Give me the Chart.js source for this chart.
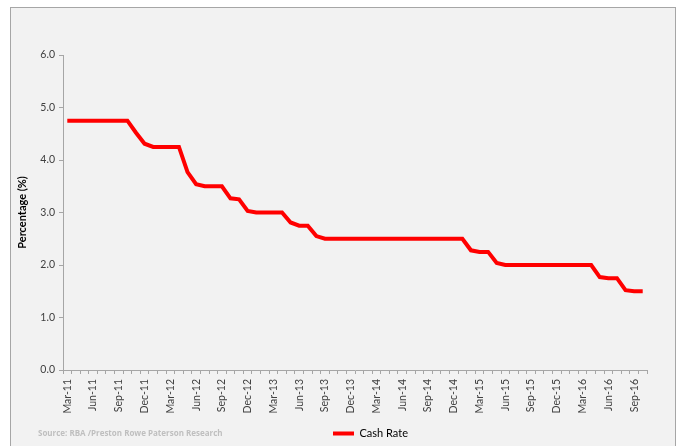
<!DOCTYPE html>
<html>
<head>
<meta charset="utf-8">
<script src="https://cdn.jsdelivr.net/npm/chart.js@4/dist/chart.umd.min.js"></script>
<style>
  html, body { margin: 0; padding: 0; background: #ffffff; width: 680px; height: 446px; overflow: hidden; }
  #frame { position: absolute; left: 10px; top: 7px; width: 664px; height: 460px; border: 1px solid #a6a6a6; background: #f2f2f2; }
  #wrap { position: absolute; left: 0; top: 0; width: 680px; height: 446px; }
  #source { position: absolute; left: 38px; top: 427px; font-family: "Open Sans", sans-serif; font-weight: bold; font-size: 8px; color: #bfbfbf; white-space: nowrap; }
</style>
</head>
<body>
<div id="frame"></div>
<div id="wrap"><canvas id="c" width="680" height="446"></canvas></div>
<div id="source">Source: RBA /Preston Rowe Paterson Research</div>
<script>
const months = [
  'Mar-11','Apr-11','May-11','Jun-11','Jul-11','Aug-11','Sep-11','Oct-11','Nov-11','Dec-11',
  'Jan-12','Feb-12','Mar-12','Apr-12','May-12','Jun-12','Jul-12','Aug-12','Sep-12','Oct-12','Nov-12','Dec-12',
  'Jan-13','Feb-13','Mar-13','Apr-13','May-13','Jun-13','Jul-13','Aug-13','Sep-13','Oct-13','Nov-13','Dec-13',
  'Jan-14','Feb-14','Mar-14','Apr-14','May-14','Jun-14','Jul-14','Aug-14','Sep-14','Oct-14','Nov-14','Dec-14',
  'Jan-15','Feb-15','Mar-15','Apr-15','May-15','Jun-15','Jul-15','Aug-15','Sep-15','Oct-15','Nov-15','Dec-15',
  'Jan-16','Feb-16','Mar-16','Apr-16','May-16','Jun-16','Jul-16','Aug-16','Sep-16','Oct-16'
];
const cashRate = [
  4.75,4.75,4.75,4.75,4.75,4.75,4.75,4.75,4.52,4.31,
  4.25,4.25,4.25,4.25,3.77,3.54,3.50,3.50,3.50,3.27,3.25,3.03,
  3.00,3.00,3.00,3.00,2.81,2.75,2.75,2.55,2.50,2.50,2.50,2.50,
  2.50,2.50,2.50,2.50,2.50,2.50,2.50,2.50,2.50,2.50,2.50,2.50,
  2.50,2.28,2.25,2.25,2.04,2.00,2.00,2.00,2.00,2.00,2.00,2.00,
  2.00,2.00,2.00,2.00,1.77,1.75,1.75,1.52,1.50,1.50
];
const seriesName = 'Cash Rate';
const yTitle = 'Percentage (%)';
const yMin = 0, yMax = 6, yStep = 1;

const tickFont = { family: 'Lato', size: 10.5 };
const tickColor = '#404040';
const axisColor = '#a6a6a6';

const legendShift = {
  id: 'legendShift',
  afterLayout(chart) {
    const lg = chart.legend;
    if (!lg) return;
    const dx = 47, dy = 4;
    lg.left += dx; lg.right += dx;
    lg.top += dy; lg.bottom += dy;
    if (lg.legendHitBoxes) lg.legendHitBoxes.forEach(b => { b.left += dx; b.top += dy; });
  }
};

new Chart(document.getElementById('c'), {
  type: 'line',
  data: {
    labels: months,
    datasets: [{
      label: seriesName,
      data: cashRate,
      borderColor: '#ff0000',
      backgroundColor: '#ff0000',
      borderWidth: 4,
      pointRadius: 0,
      tension: 0,
      fill: false
    }]
  },
  options: {
    responsive: false,
    animation: false,
    layout: { padding: { left: 0, right: 33, top: 55, bottom: 1 } },
    plugins: {
      tooltip: { enabled: false },
      legend: {
        position: 'bottom',
        labels: {
          font: { family: 'Lato', size: 11 },
          color: '#000000',
          boxWidth: 21,
          boxHeight: 4,
          padding: 6,
          generateLabels(chart) {
            return Chart.defaults.plugins.legend.labels.generateLabels(chart).map(it => Object.assign(it, { lineWidth: 0, fillStyle: '#ff0000', strokeStyle: '#ff0000' }));
          }
        }
      }
    },
    scales: {
      x: {
        type: 'category',
        offset: true,
        grid: { display: true, drawOnChartArea: false, drawTicks: true, tickLength: 4, offset: true, color: axisColor },
        border: { display: true, color: axisColor, width: 1 },
        ticks: {
          autoSkip: false,
          maxRotation: 90,
          minRotation: 90,
          font: tickFont,
          color: tickColor,
          padding: 5,
          callback(v, i) { return i % 3 === 0 ? months[i] : ''; }
        },
        afterFit(s) { s.height = 48; }
      },
      y: {
        min: yMin,
        max: yMax,
        grid: { display: true, drawOnChartArea: false, drawTicks: true, tickLength: 4, color: axisColor },
        border: { display: true, color: axisColor, width: 1 },
        ticks: {
          stepSize: yStep,
          font: tickFont,
          color: tickColor,
          padding: 4,
          callback(v) { return Number(v).toFixed(1); }
        },
        title: {
          display: true,
          text: yTitle,
          font: { family: 'Lato', size: 11, weight: 'bold' },
          color: '#000000',
          padding: { top: 16, bottom: 0 }
        },
        afterFit(s) { s.width = 63; }
      }
    }
  },
  plugins: [legendShift]
});
</script>
</body>
</html>
